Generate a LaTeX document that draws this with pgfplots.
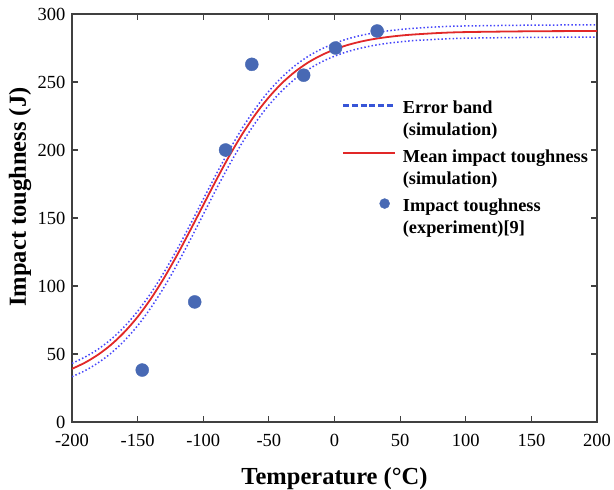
\documentclass[border=0pt]{standalone}
\usepackage{fontspec}
\setmainfont{Liberation Serif}
\usepackage{pgfplots}
\pgfplotsset{compat=1.18}
\definecolor{bandblue}{RGB}{70,70,250}
\definecolor{legblue}{RGB}{55,85,215}
\definecolor{meanred}{RGB}{225,40,40}
\definecolor{ptblue}{RGB}{72,105,180}
\definecolor{axgray}{RGB}{64,64,64}
\newcommand{\twolines}[2]{\vtop{\baselineskip=22bp\hbox{#1}\hbox{#2}}}

\begin{document}
\begin{tikzpicture}
\begin{axis}[
  at={(0,0)}, anchor=south west,
  scale only axis, width=525bp, height=408bp,
  xmin=-200, xmax=200, ymin=0, ymax=300,
  xtick={-200,-150,-100,-50,0,50,100,150,200},
  ytick={0,50,100,150,200,250,300},
  tick align=inside, major tick length=6bp,
  axis line style={axgray, line width=1.4bp},
  tick style={axgray, line width=1.2bp},
  /pgf/number format/assume math mode=true,
  ticklabel style={font=\fontsize{18.5bp}{22bp}\selectfont, text=black},
  xticklabel style={yshift=-9bp},
  yticklabel style={xshift=-3bp},
  xlabel={Temperature (°C)},
  ylabel={Impact toughness (J)},
  label style={font=\fontsize{24.5bp}{28bp}\selectfont\bfseries},
  xlabel style={at={(axis description cs:0.5,0)}, anchor=base, yshift=-62.5bp},
  ylabel style={at={(axis description cs:-0.099,0.5515)}, anchor=center},
  legend style={draw=none, fill=none, inner sep=0pt,
    at={(axis description cs:0.5137,0.7868)}, anchor=north west,
    font=\fontsize{18.3bp}{22bp}\selectfont\bfseries,
    cells={anchor=base west}, nodes={inner sep=0pt},
    column sep=6.7bp, row sep=34.5bp},
]
% error band (simulation), upper and lower
\addplot[bandblue, line width=1.5bp, dash pattern=on 1.5bp off 2.2bp, smooth, forget plot] coordinates {
(-200,43.1) (-190,47.8) (-180,53.6) (-170,61.0) (-160,70.2) (-150,81.4) (-140,94.6)
(-130,109.9) (-120,126.8) (-110,145.0) (-100,163.8) (-90,182.4) (-80,200.2) (-70,216.5)
(-60,230.9) (-50,243.3) (-40,253.6) (-30,262.1) (-20,268.9) (-10,274.2) (0,278.4)
(10,281.7) (20,284.2) (30,286.1) (40,287.5) (50,288.6) (60,289.4) (80,290.6)
(100,291.2) (150,291.8) (200,292.0)};
\addplot[bandblue, line width=1.5bp, dash pattern=on 1.5bp off 2.2bp, smooth, forget plot] coordinates {
(-200,33.3) (-190,37.8) (-180,43.6) (-170,50.8) (-160,59.85) (-150,70.8) (-140,83.9)
(-130,98.9) (-120,115.7) (-110,133.8) (-100,152.6) (-90,171.4) (-80,189.3) (-70,205.8)
(-60,220.4) (-50,233.0) (-40,243.6) (-30,252.3) (-20,259.2) (-10,264.7) (0,269.0)
(10,272.35) (20,274.9) (30,276.9) (40,278.4) (50,279.5) (60,280.4) (80,281.5)
(100,282.2) (150,282.8) (200,283.0)};
% mean impact toughness (simulation)
\addplot[meanred, line width=1.8bp, smooth, forget plot] coordinates {
(-200,39.1) (-190,43.7) (-180,49.6) (-170,57.0) (-160,66.2) (-150,77.3) (-140,90.5)
(-130,105.7) (-120,122.6) (-110,140.8) (-100,159.5) (-90,178.1) (-80,195.9) (-70,212.1)
(-60,226.5) (-50,238.8) (-40,249.2) (-30,257.6) (-20,264.4) (-10,269.7) (0,273.9)
(10,277.2) (20,279.7) (30,281.6) (40,283.0) (50,284.1) (60,284.9) (80,286.05)
(100,286.7) (150,287.3) (200,287.5)};
% experiment
\addplot[only marks, mark=*, mark size=6.5bp, ptblue, mark options={draw=ptblue, fill=ptblue}, forget plot] coordinates {
(-146.5,38.2) (-106.5,88.3) (-83,200) (-63,263) (-23.5,255) (0.8,275) (32.5,287.5)};

\addlegendimage{legend image code/.code={\draw[draw=legblue, color=legblue, line width=2.3bp, dash pattern=on 6bp off 2.8bp] (0bp,8.5bp) -- (52bp,8.5bp);}}
\addlegendentry{\twolines{Error band}{(simulation)}}
\addlegendimage{legend image code/.code={\draw[draw=meanred, color=meanred, line width=2bp] (0bp,9.5bp) -- (52bp,9.5bp);}}
\addlegendentry{\twolines{Mean impact toughness}{(simulation)}}
\addlegendimage{legend image code/.code={\draw[only marks, mark=*, mark size=5bp, ptblue, mark options={draw=ptblue, fill=ptblue}] plot coordinates {(41.6bp,8bp)};}}
\addlegendentry{\twolines{Impact toughness}{(experiment)[9]}}
\end{axis}
\pgfresetboundingbox
\path[use as bounding box] (-72bp,-68bp) rectangle (542bp,422bp);
\end{tikzpicture}
\end{document}
